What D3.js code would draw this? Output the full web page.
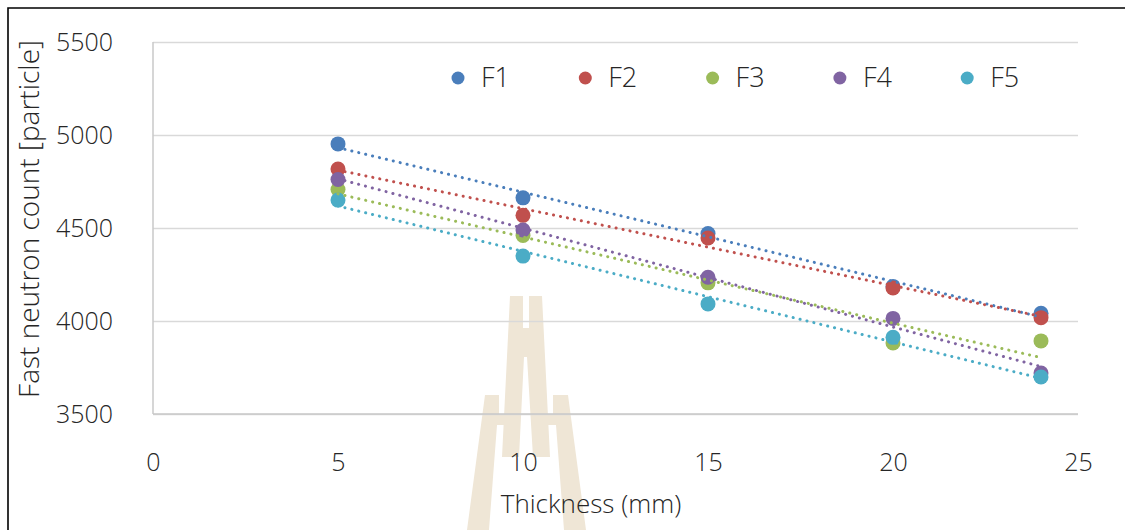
<!DOCTYPE html>
<html>
<head>
<meta charset="utf-8">
<script src="https://cdn.jsdelivr.net/npm/d3@7"></script>
<style>
  html, body { margin: 0; padding: 0; background: #fff; }
  svg { display: block; }
  text { font-family: "Open Sans", "Noto Sans", sans-serif; font-weight: 300; fill: #262626; }
</style>
</head>
<body>
<svg id="chart" width="1125" height="530"></svg>
<script>
// ---- data ----
const thickness = [5, 10, 15, 20, 24];
const seriesNames = ["F1", "F2", "F3", "F4", "F5"];
const F1 = [4952, 4662, 4470, 4186, 4042];
const F2 = [4817, 4568, 4446, 4178, 4018];
const F3 = [4707, 4460, 4205, 3882, 3893];
const F4 = [4761, 4489, 4235, 4014, 3720];
const F5 = [4650, 4349, 4092, 3912, 3699];
const seriesValues = [F1, F2, F3, F4, F5];
const seriesColors = ["#4a7ebb", "#c0504d", "#9bbb59", "#8064a2", "#4bacc6"];
const xTickValues = [0, 5, 10, 15, 20, 25];
const yTickValues = [3500, 4000, 4500, 5000, 5500];
const xTitle = "Thickness (mm)";
const yTitle = "Fast neutron count [particle]";

// ---- layout ----
const svg = d3.select("#chart");
const W = 1125, H = 530;
const plot = { left: 153, right: 1078, top: 42, bottom: 414 };
const TICK_FS = 25, XT_FS = 26, YT_FS = 28, LEG_FS = 27;

const x = d3.scaleLinear().domain([0, 25]).range([plot.left, plot.right]);
const y = d3.scaleLinear().domain([3500, 5500]).range([plot.bottom, plot.top]);

// outer border (top & left visible)
svg.append("path")
  .attr("d", `M8,${H + 5} L8,8 L${W + 5},8`)
  .attr("fill", "none").attr("stroke", "#000").attr("stroke-width", 1.6);

// watermark (decorative background logo)
const wm = svg.append("g").attr("fill", "#efe6d6");
const wmShapes = [
  [[510,296],[523,296],[523,328],[529,328],[529,296],[542,296],[550,457],[533,457],[527,357],[524,357],[519,457],[502,457]],
  [[485,395],[499,395],[499,415],[510,415],[509,425],[497,425],[489,530],[467,530]],
  [[553,395],[568,395],[586,530],[564,530],[556,425],[543,425],[542,415],[553,415]]
];
wmShapes.forEach(s => wm.append("polygon").attr("points", s.map(p => p.join(",")).join(" ")));

// gridlines
svg.append("g")
  .attr("transform", `translate(${plot.left},0)`)
  .call(d3.axisLeft(y).tickValues(yTickValues).tickSize(-(plot.right - plot.left)).tickFormat(""))
  .call(g => g.select(".domain").remove())
  .call(g => g.selectAll("line").attr("stroke", "#d9d9d9").attr("stroke-width", 1.5));

// y axis vertical line
svg.append("line")
  .attr("x1", plot.left).attr("x2", plot.left)
  .attr("y1", plot.top).attr("y2", plot.bottom)
  .attr("stroke", "#c8c8c8").attr("stroke-width", 1.5);
// x axis baseline
svg.append("line")
  .attr("x1", plot.left).attr("x2", plot.right)
  .attr("y1", plot.bottom).attr("y2", plot.bottom)
  .attr("stroke", "#c8c8c8").attr("stroke-width", 1.5);

// y tick labels
svg.append("g")
  .attr("transform", `translate(113,0)`)
  .call(d3.axisLeft(y).tickValues(yTickValues).tickSize(0).tickPadding(0).tickFormat(d3.format("d")))
  .call(g => g.select(".domain").remove())
  .call(g => g.selectAll("text")
    .attr("font-size", TICK_FS).attr("font-family", null).attr("fill", "#262626").attr("dy", "0.32em"));

// x tick labels
svg.append("g")
  .attr("transform", `translate(0,455)`)
  .call(d3.axisBottom(x).tickValues(xTickValues).tickSize(0).tickPadding(0).tickFormat(d3.format("d")))
  .call(g => g.select(".domain").remove())
  .call(g => g.selectAll("text")
    .attr("font-size", TICK_FS).attr("font-family", null).attr("fill", "#262626").attr("dy", "0.62em"));

// axis titles
svg.append("text")
  .attr("x", 591).attr("y", 513)
  .attr("text-anchor", "middle").attr("font-size", XT_FS)
  .text(xTitle);
svg.append("text")
  .attr("transform", `translate(39,219) rotate(-90)`)
  .attr("text-anchor", "middle").attr("font-size", YT_FS)
  .text(yTitle);

// points
const pts = svg.append("g");
seriesValues.forEach((vals, i) => {
  pts.selectAll(null)
    .data(vals.map((v, j) => ({ x: thickness[j], y: v })))
    .enter().append("circle")
    .attr("cx", d => x(d.x)).attr("cy", d => y(d.y))
    .attr("r", 7.5).attr("fill", seriesColors[i]);
});

// linear trendlines (least squares from the series values)
function fit(xs, ys) {
  const n = xs.length;
  const mx = d3.mean(xs), my = d3.mean(ys);
  let sxy = 0, sxx = 0;
  for (let k = 0; k < n; k++) { sxy += (xs[k] - mx) * (ys[k] - my); sxx += (xs[k] - mx) ** 2; }
  const b = sxy / sxx;
  return { a: my - b * mx, b };
}
const trend = svg.append("g");
seriesValues.forEach((vals, i) => {
  const f = fit(thickness, vals);
  const x0 = d3.min(thickness), x1 = d3.max(thickness);
  trend.append("line")
    .attr("x1", x(x0)).attr("y1", y(f.a + f.b * x0))
    .attr("x2", x(x1)).attr("y2", y(f.a + f.b * x1))
    .attr("stroke", seriesColors[i]).attr("stroke-width", 3)
    .attr("stroke-linecap", "round").attr("stroke-dasharray", "0.1,7");
});

// legend
const legend = svg.append("g");
seriesNames.forEach((name, i) => {
  const lx = 458 + i * 127.3;
  legend.append("circle").attr("cx", lx).attr("cy", 78).attr("r", 6.5).attr("fill", seriesColors[i]);
  legend.append("text").attr("x", lx + 23).attr("y", 78).attr("dy", "0.34em")
    .attr("font-size", LEG_FS).text(name);
});
</script>
</body>
</html>
